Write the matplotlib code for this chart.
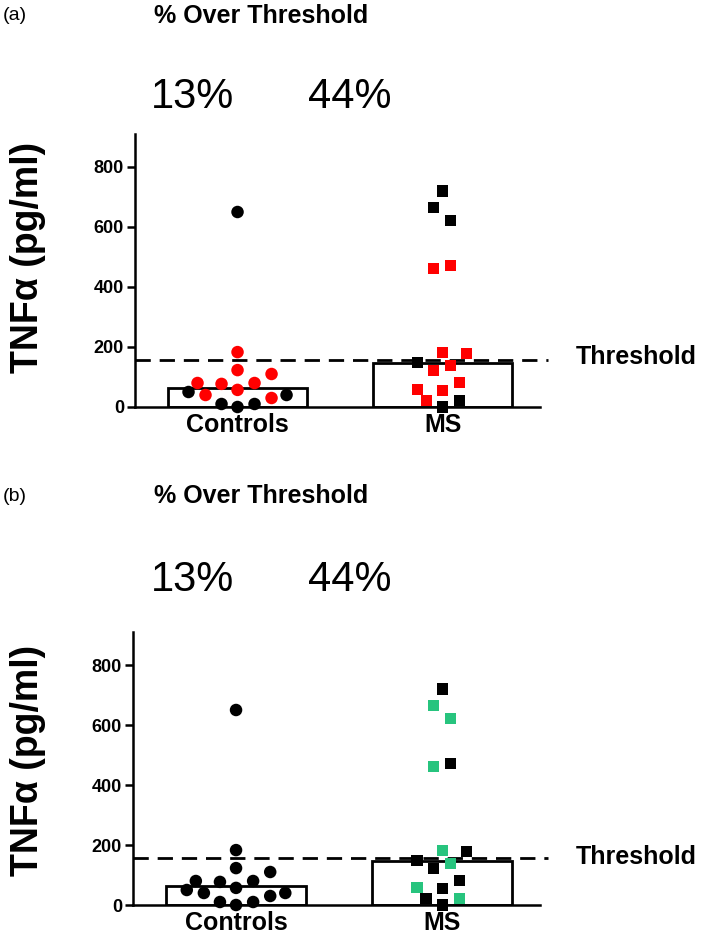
import matplotlib
matplotlib.use('agg')
import matplotlib.pyplot as plt

# --- data ---
groups = ['Controls', 'MS']
pct_over = ['13%', '44%']
threshold = 157
bar_heights = [63, 146]

ctrl_vals = [650, 183, 123, 110, 80, 77, 80, 57, 40, 30, 50, 40, 10, 0, 10]
ctrl_colors_a = ['k', 'r', 'r', 'r', 'r', 'r', 'r', 'r', 'r', 'r', 'k', 'k', 'k', 'k', 'k']
ctrl_colors_b = ['k'] * 15

ms_vals = [720, 664, 621, 463, 473, 181, 177, 148, 121, 137, 81, 57, 54, 23, 21, 0]
ms_colors_a = ['k', 'k', 'k', 'r', 'r', 'r', 'r', 'k', 'r', 'r', 'r', 'r', 'r', 'r', 'k', 'k']
ms_colors_b = ['k', 'g', 'g', 'g', 'k', 'g', 'k', 'k', 'k', 'g', 'k', 'g', 'k', 'k', 'g', 'k']

# horizontal scatter layout (pixels from column centre)
ctrl_jit = [0, 0, 0, 34, -40, -16, 17, 0, -32, 34, -49, 49, -16, 0, 17]
ms_jit = [0, -9, 8, -9, 8, 0, 24, -25, -9, 8, 17, -25, 0, -16, 17, 0]

cmap = {'k': 'black', 'r': '#ff0000', 'g': '#27c47e'}

plt.rcParams['font.family'] = ['Liberation Sans', 'DejaVu Sans']

W, H = 709, 948
fig = plt.figure(figsize=(W / 100, H / 100), dpi=100)


def px_rect(left, right, bottom, top):
    return [left / W, 1 - bottom / H, (right - left) / W, (bottom - top) / H]


def panel(rect, ctrl_cols, ms_cols, tag, y_tag, y_num, y_lab, y_thr):
    ax = fig.add_axes(rect)
    ax.set_xlim(-0.5, 1.475)
    ax.set_ylim(0, 910)
    ax.bar([0, 1], bar_heights, width=0.68, color='white', edgecolor='black',
           linewidth=2.0, zorder=2)
    ax.plot([0, 1.02], [threshold, threshold], transform=ax.get_yaxis_transform(),
            color='black', lw=2.0, ls=(0, (5.5, 3.2)), clip_on=False, zorder=3)
    for xc, vals, jit, cols, mk, ms in [(0, ctrl_vals, ctrl_jit, ctrl_cols, 'o', 9),
                                         (1, ms_vals, ms_jit, ms_cols, 's', 8)]:
        xs = [xc + j / 205 for j in jit]
        ax.scatter(xs, vals, s=ms ** 2, marker=mk, c=[cmap[c] for c in cols],
                   edgecolors='none', zorder=4, clip_on=False)
    for s in ['top', 'right']:
        ax.spines[s].set_visible(False)
    for s in ['left', 'bottom']:
        ax.spines[s].set_linewidth(1.8)
    ax.set_yticks([0, 200, 400, 600, 800])
    ax.tick_params(axis='y', length=6, width=1.8, labelsize=13, pad=2)
    for t in ax.get_yticklabels():
        t.set_fontweight('bold')
    ax.set_xticks([0, 1])
    ax.set_xticklabels(groups, fontsize=18, fontweight='bold')
    ax.tick_params(axis='x', length=0, pad=4)

    fig.text(3 / W, 1 - y_tag / H, tag, fontsize=14, va='center', ha='left')
    fig.text(261 / W, 1 - y_tag / H, '% Over Threshold', fontsize=18, fontweight='bold',
             ha='center', va='center')
    fig.text(192 / W, 1 - y_num / H, pct_over[0], fontsize=30,
             ha='center', va='center')
    fig.text(350 / W, 1 - y_num / H, pct_over[1], fontsize=30,
             ha='center', va='center')
    fig.text(28 / W, 1 - y_lab / H, 'TNF\u03b1 (pg/ml)', fontsize=27, fontweight='bold',
             rotation=90, ha='center', va='center')
    fig.text(576 / W, 1 - y_thr / H, 'Threshold', fontsize=18, fontweight='bold',
             ha='left', va='center')
    return ax


panel(px_rect(135, 540, 407, 134), ctrl_colors_a, ms_colors_a, '(a)', 16, 97, 257, 357)
panel(px_rect(133, 540, 905, 632), ctrl_colors_b, ms_colors_b, '(b)', 496, 580, 760, 857)

fig.savefig('out.png', dpi=100)
